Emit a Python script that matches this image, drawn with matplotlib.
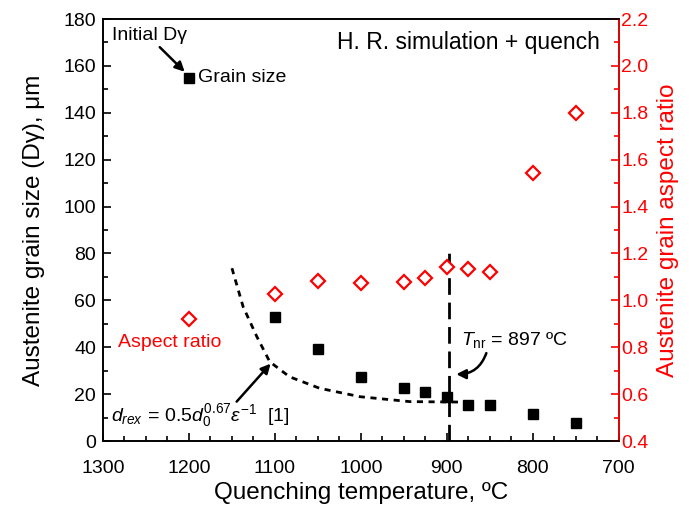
import matplotlib
matplotlib.use("Agg")
import matplotlib.pyplot as plt
from matplotlib.ticker import MultipleLocator, FormatStrFormatter

plt.rcParams['font.family'] = ['Liberation Sans', 'DejaVu Sans']
plt.rcParams['mathtext.fontset'] = 'custom'
plt.rcParams['mathtext.rm'] = 'Liberation Sans'
plt.rcParams['mathtext.it'] = 'Liberation Sans:italic'
plt.rcParams['mathtext.bf'] = 'Liberation Sans:bold'

# Quenching temperatures (ºC)
temps = [1200, 1100, 1050, 1000, 950, 925, 900, 875, 850, 800, 750]
# Austenite grain size (µm)
grain_size = [155, 53, 39.2, 27.2, 22.7, 20.8, 18.8, 15.2, 15.4, 11.7, 7.8]
# Austenite grain aspect ratio
aspect_ratio = [0.92, 1.025, 1.083, 1.073, 1.077, 1.097, 1.144, 1.135, 1.12, 1.545, 1.80]

# Predicted recrystallized grain size curve
model_temps = [1150, 1137, 1121, 1106, 1083, 1048, 1001, 943, 880]
model_size = [73.7, 57.3, 44.5, 33.8, 27.4, 22.5, 18.9, 16.8, 16.6]

# No-recrystallization temperature
t_nr = 897
t_nr_top = 83

fig = plt.figure(figsize=(6.89, 5.14), dpi=100)
ax = fig.add_axes([0.1495, 0.142, 0.7485, 0.821])
ax2 = ax.twinx()

ax.set_xlim(1300, 700)
ax.set_ylim(0, 180)
ax2.set_ylim(0.4, 2.2)

ax.plot(model_temps, model_size, color='black', lw=2, ls=(0, (2.2, 2.0)), zorder=2)
ax.plot([t_nr, t_nr], [0, t_nr_top], color='black', lw=2, ls=(0, (6.0, 2.8)), zorder=2)
ax.plot(temps, grain_size, ls='none', marker='s', ms=7.5, color='black', zorder=3)
ax2.plot(temps, aspect_ratio, ls='none', marker='D', ms=7, mfc='white', mec='red', mew=1.6, zorder=3)

# Axes styling
ax.xaxis.set_major_locator(MultipleLocator(100))
ax.xaxis.set_minor_locator(MultipleLocator(25))
ax.yaxis.set_major_locator(MultipleLocator(20))
ax.yaxis.set_minor_locator(MultipleLocator(10))
ax2.yaxis.set_major_locator(MultipleLocator(0.2))
ax2.yaxis.set_minor_locator(MultipleLocator(0.1))
ax2.yaxis.set_major_formatter(FormatStrFormatter('%.1f'))

ax.tick_params(axis='both', which='both', direction='in', top=False, right=False,
               labelsize=14, width=1.2)
ax.tick_params(which='major', length=6)
ax.tick_params(which='minor', length=3.5)
ax.tick_params(axis='x', pad=14)
ax.tick_params(axis='y', pad=5)
ax2.tick_params(axis='y', which='both', direction='in', colors='red', labelsize=14, width=1.2, pad=2)
ax2.tick_params(which='major', length=6)
ax2.tick_params(which='minor', length=3.5)

for sp in ax.spines.values():
    sp.set_linewidth(1.2)
for sp in ax2.spines.values():
    sp.set_linewidth(1.2)
ax2.spines['right'].set_color('red')

ax.set_xlabel('Quenching temperature, ºC', fontsize=17.5, labelpad=3)
ax.set_ylabel('Austenite grain size (Dγ), μm', fontsize=17.5, labelpad=13)
ax2.set_ylabel('Austenite grain aspect ratio', fontsize=17.5, color='red', labelpad=6)

# Annotations
ax.text(1289, 173, 'Initial Dγ', fontsize=14, ha='left', va='center')
ax.annotate('', xy=(1205, 157.5), xytext=(1234, 168),
            arrowprops=dict(arrowstyle='-|>', color='black', lw=1.8, mutation_scale=14,
                            shrinkA=0, shrinkB=0))
ax.text(1189, 155, 'Grain size', fontsize=14, ha='left', va='center')
ax.text(1283, 42, 'Aspect ratio', fontsize=14, ha='left', va='center', color='red')
ax.text(722, 170, 'H. R. simulation + quench', fontsize=16.5, ha='right', va='center')

ax.text(883, 43, r'$T_{\mathrm{nr}}$ = 897 ºC', fontsize=14, ha='left', va='center')
ax.annotate('', xy=(889, 28.5), xytext=(854, 37.5),
            arrowprops=dict(arrowstyle='-|>', color='black', lw=1.8, mutation_scale=14,
                            shrinkA=0, shrinkB=0, connectionstyle='arc3,rad=-0.35'))

ax.text(1291, 11, r'$\mathit{d_{rex}\,=\,0.5d_{0}^{0.67}}\varepsilon^{\mathit{-1}}$  [1]',
        fontsize=14, ha='left', va='center')
ax.annotate('', xy=(1105, 33), xytext=(1144.5, 16.8),
            arrowprops=dict(arrowstyle='-|>', color='black', lw=1.8, mutation_scale=14,
                            shrinkA=0, shrinkB=0))

fig.savefig('out.png', dpi=100)
